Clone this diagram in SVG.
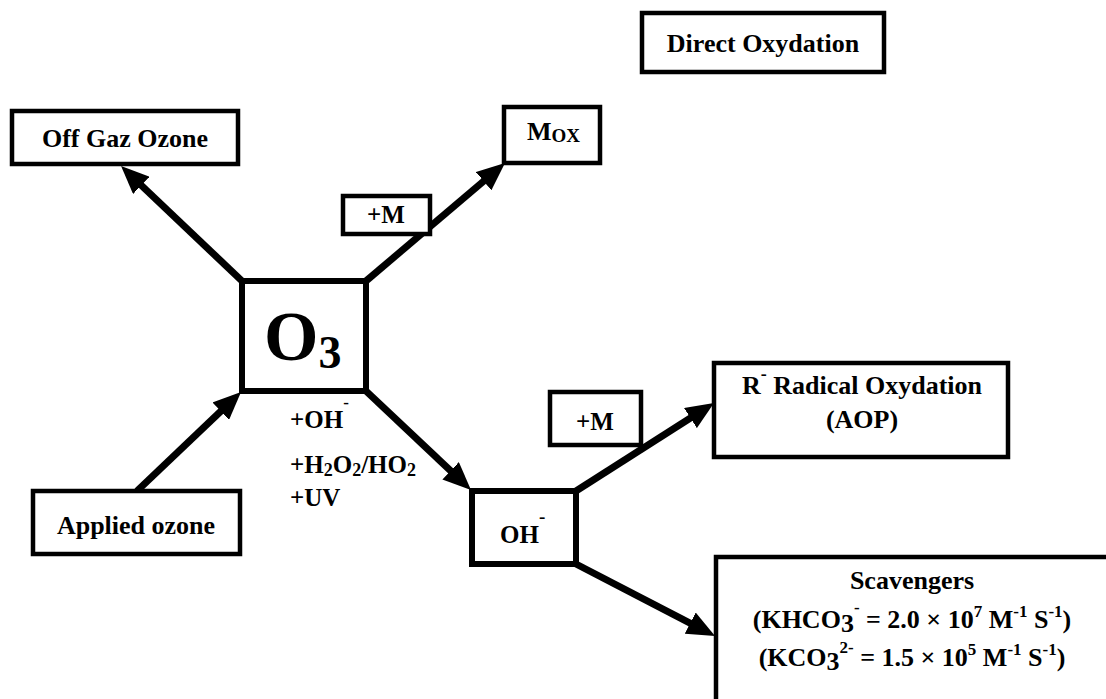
<svg xmlns="http://www.w3.org/2000/svg" width="1106" height="699" viewBox="0 0 1106 699">
<style>
.box{fill:#fff;stroke:#000;stroke-width:4.5}
.thick{fill:#fff;stroke:#000;stroke-width:6}
.t{font-family:"Liberation Serif","Times New Roman",serif;font-weight:bold;fill:#000}
.c{text-anchor:middle}
.arr{stroke:#000;stroke-width:7;fill:none;marker-end:url(#ah)}
</style>
<defs>
<marker id="ah" viewBox="0 0 28 24" refX="14" refY="12" markerWidth="28" markerHeight="24" markerUnits="userSpaceOnUse" orient="auto">
<path d="M0,0 L28,12 L0,24 z" fill="#000"/>
</marker>
</defs>
<rect width="1106" height="699" fill="#fff"/>
<g id="connectors">
<line class="arr" x1="242" y1="281" x2="131.2" y2="175.7"/>
<line class="arr" x1="366" y1="281" x2="494.3" y2="172.1"/>
<line class="arr" x1="137" y1="491" x2="230.9" y2="401.6"/>
<line class="arr" x1="366" y1="391" x2="460.8" y2="480.4"/>
<line class="arr" x1="576" y1="491" x2="702.2" y2="410.5"/>
<line class="arr" x1="576" y1="564" x2="702.6" y2="629.6"/>
</g>
<g id="direct">
<rect class="box" x="642" y="13" width="242" height="59"/>
<text class="t c" x="763" y="52" font-size="26">Direct Oxydation</text>
</g>
<g id="offgaz">
<rect class="box" x="12" y="111" width="226" height="53"/>
<text class="t c" x="125" y="147" font-size="26">Off Gaz Ozone</text>
</g>
<g id="mox">
<rect class="box" x="504" y="107" width="96" height="56"/>
<text class="t" x="527" y="140" font-size="26">M<tspan dy="2" font-size="19">OX</tspan></text>
</g>
<g id="plusM1">
<rect class="box" x="343" y="196" width="87" height="38"/>
<text class="t c" x="386" y="223" font-size="25">+M</text>
</g>
<g id="o3">
<rect class="thick" x="242" y="281" width="124" height="110"/>
<text class="t" x="264" y="360" font-size="70">O<tspan dy="8" font-size="46">3</tspan></text>
</g>
<g id="applied">
<rect class="box" x="33" y="491" width="207" height="63"/>
<text class="t c" x="136" y="534" font-size="26">Applied ozone</text>
</g>
<g id="labels">
<text class="t" x="290" y="428" font-size="25">+OH<tspan dy="-20" font-size="17">-</tspan></text>
<text class="t" x="290" y="473" font-size="25">+H<tspan dy="3" font-size="18">2</tspan><tspan dy="-3">O</tspan><tspan dy="3" font-size="18">2</tspan><tspan dy="-3">/HO</tspan><tspan dy="3" font-size="18">2</tspan></text>
<text class="t" x="290" y="506" font-size="25">+UV</text>
</g>
<g id="oh">
<rect class="thick" x="472" y="491" width="104" height="73"/>
<text class="t" x="500" y="543" font-size="25">OH<tspan dy="-20" font-size="19">-</tspan></text>
</g>
<g id="plusM2">
<rect class="box" x="550" y="392" width="91" height="53"/>
<text class="t c" x="595" y="430" font-size="25">+M</text>
</g>
<g id="radical">
<rect class="box" x="714" y="363" width="294" height="94"/>
<text class="t c" x="862" y="394" font-size="26">R<tspan dy="-14" font-size="18">-</tspan><tspan dy="14"> Radical Oxydation</tspan></text>
<text class="t c" x="862" y="428" font-size="26">(AOP)</text>
</g>
<g id="scavengers">
<rect class="box" x="716" y="557" width="500" height="200"/>
<text class="t c" x="912" y="589" font-size="26">Scavengers</text>
<text class="t c" x="912" y="628" font-size="26">(KHCO<tspan dy="4">3</tspan><tspan dy="-19" font-size="17">-</tspan><tspan dy="15"> = 2.0 × 10</tspan><tspan dy="-11" font-size="17">7</tspan><tspan dy="11"> M</tspan><tspan dy="-11" font-size="17">-1</tspan><tspan dy="11"> S</tspan><tspan dy="-11" font-size="17">-1</tspan><tspan dy="11">)</tspan></text>
<text class="t c" x="912" y="666" font-size="26">(KCO<tspan dy="4">3</tspan><tspan dy="-17" font-size="17">2-</tspan><tspan dy="13"> = 1.5 × 10</tspan><tspan dy="-11" font-size="17">5</tspan><tspan dy="11"> M</tspan><tspan dy="-11" font-size="17">-1</tspan><tspan dy="11"> S</tspan><tspan dy="-11" font-size="17">-1</tspan><tspan dy="11">)</tspan></text>
</g>
</svg>
